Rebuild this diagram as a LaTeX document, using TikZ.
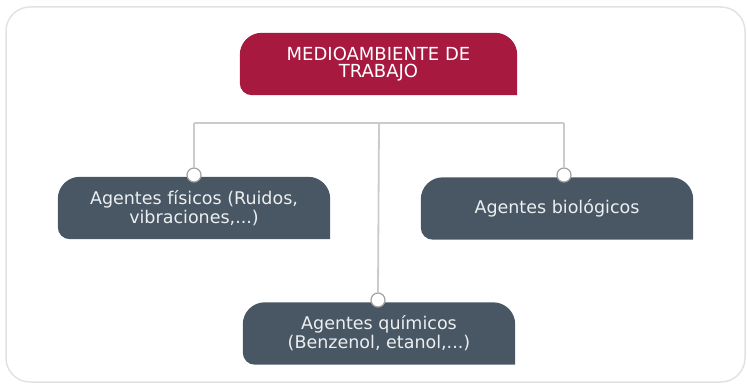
\documentclass[tikz,border=0pt]{standalone}
\usepackage{fontspec}
\setmainfont{DejaVu Sans}
\usetikzlibrary{backgrounds}
\definecolor{crim}{HTML}{A8193F}
\definecolor{slate}{HTML}{485763}
\definecolor{wire}{HTML}{CBCBCB}
\definecolor{ring}{HTML}{A2A2A2}
\definecolor{frame}{HTML}{E2E2E2}
\definecolor{pale}{HTML}{ECEFF1}
\tikzset{
  tabbox/.style={minimum width=272pt, minimum height=62pt, inner sep=0pt, align=center,
    text=pale, font=\fontsize{17.5}{19}\selectfont},
  headbox/.style={tabbox, minimum width=277pt, text=white, font=\fontsize{18}{16.5}\selectfont},
  dot/.style={circle, draw=ring, fill=white, line width=1.2pt, minimum size=14pt, inner sep=0pt},
  wireline/.style={draw=wire, line width=1.8pt}
}
\newcommand\tabshape[2]{%
  \fill[#2] (#1.south east) -- ([yshift=-22pt]#1.north east) arc (0:90:22pt)
    -- ([xshift=22pt]#1.north west) arc (90:180:22pt)
    -- ([yshift=12pt]#1.south west) arc (180:270:12pt) -- cycle;}
\begin{document}
\begin{tikzpicture}[x=1pt,y=1pt]
\useasboundingbox (0,0) rectangle (747,386);
\draw[frame, line width=1.5pt, rounded corners=24pt] (6,4) rectangle (745,379);
% nodes
\node[headbox] (top) at (378.5,322) {MEDIOAMBIENTE DE\\TRABAJO};
\node[tabbox] (fis) at (194,178) {Agentes físicos (Ruidos,\\vibraciones,...)};
\node[tabbox] (bio) at (557,177.5) {Agentes biológicos};
\node[tabbox] (qui) at (379,52.5) {Agentes químicos\\(Benzenol, etanol,...)};
\begin{scope}[on background layer]
  \tabshape{top}{crim}
  \tabshape{fis}{slate}
  \tabshape{bio}{slate}
  \tabshape{qui}{slate}
\end{scope}
% connectors
\coordinate (hub) at (379,263);
\node[dot] (cL) at (194,211) {};
\node[dot] (cR) at (564,211) {};
\node[dot] (cB) at (378,86) {};
\begin{scope}[on background layer]
  \draw[wireline] (cL.center |- hub) -- (cR.center |- hub);
  \draw[wireline] (cL.center |- hub) -- (cL.north);
  \draw[wireline] (cR.center |- hub) -- (cR.north);
  \draw[wireline] (hub) -- (cB.north);
\end{scope}
\end{tikzpicture}
\end{document}
